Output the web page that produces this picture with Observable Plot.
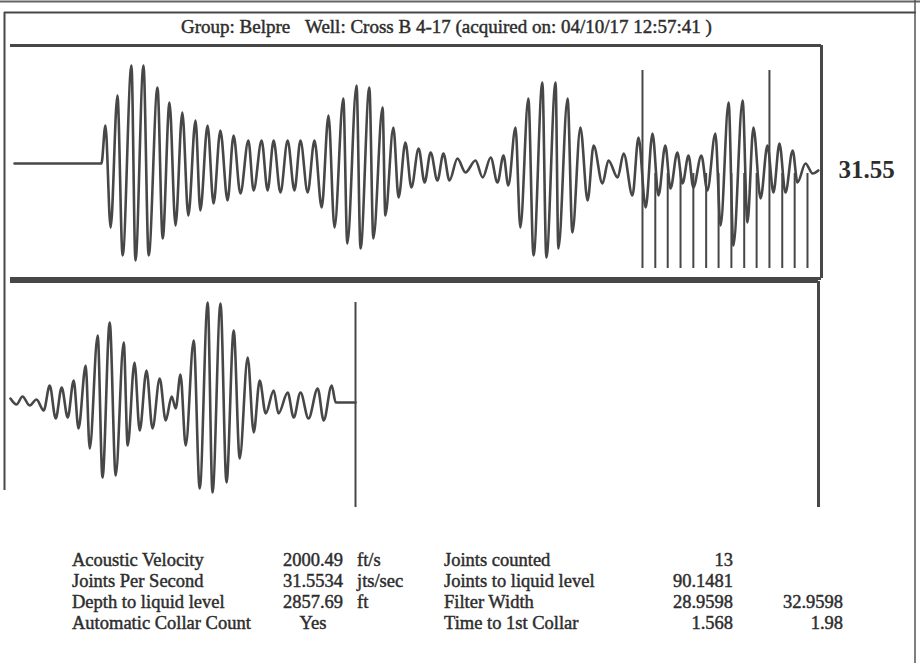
<!DOCTYPE html>
<html>
<head>
<meta charset="utf-8">
<script src="https://cdn.jsdelivr.net/npm/d3@7"></script>
<script src="https://cdn.jsdelivr.net/npm/@observablehq/plot@0.6"></script>
<style>
  body { margin: 0; background: #fff; }
  #wrap { position: relative; width: 920px; height: 663px; overflow: hidden; background: #fff; }
  .layer { position: absolute; left: 0; top: 0; }
  .layer svg { display: block; }
</style>
</head>
<body>
<div id="wrap"></div>
<script>
// ---------------- DATA ----------------
const titleParts = ["Group: Belpre", "Well: Cross B 4-17 (acquired on: 04/10/17 12:57:41 )"];

// Upper trace: time (s) and amplitude at each turning point
const upperTime = [0, 0.217,
  0.227, 0.240, 0.257, 0.270, 0.292, 0.302, 0.322, 0.335, 0.357, 0.370,
  0.387, 0.402, 0.419, 0.434, 0.452, 0.464, 0.482, 0.497, 0.514, 0.532,
  0.547, 0.564, 0.584, 0.597, 0.617, 0.632, 0.647, 0.664, 0.682, 0.699,
  0.714, 0.732, 0.749, 0.767, 0.784, 0.799, 0.821, 0.831, 0.854, 0.864,
  0.886, 0.896, 0.919, 0.926, 0.946, 0.959, 0.976, 0.991, 1.009, 1.024,
  1.039, 1.056, 1.071, 1.086, 1.106, 1.126, 1.151, 1.169, 1.189, 1.206,
  1.221, 1.233, 1.251, 1.263, 1.283, 1.296, 1.318, 1.328, 1.351, 1.358,
  1.381, 1.393, 1.413, 1.431, 1.446, 1.468, 1.483, 1.506, 1.521, 1.543,
  1.558, 1.576, 1.593, 1.608, 1.625, 1.638, 1.655, 1.668, 1.683, 1.695,
  1.715, 1.730, 1.750, 1.763, 1.783, 1.795, 1.818, 1.830, 1.845, 1.863,
  1.880, 1.895, 1.910, 1.925, 1.943, 1.955, 1.975, 1.993, 2.007];
const upperAmp = [0, 0,
  0.38, -0.64, 0.68, -0.92, 0.98, -0.97, 0.98, -0.92, 0.76, -0.75,
  0.61, -0.62, 0.51, -0.52, 0.43, -0.47, 0.38, -0.40, 0.33, -0.37,
  0.28, -0.30, 0.23, -0.27, 0.23, -0.27, 0.23, -0.29, 0.23, -0.27,
  0.23, -0.29, 0.23, -0.44, 0.48, -0.64, 0.65, -0.80, 0.78, -0.85,
  0.76, -0.75, 0.56, -0.52, 0.36, -0.34, 0.21, -0.24, 0.15, -0.19,
  0.11, -0.17, 0.10, -0.17, 0.05, -0.09, 0.03, -0.14, 0.06, -0.19,
  0.08, -0.22, 0.36, -0.64, 0.65, -0.92, 0.81, -0.94, 0.81, -0.85,
  0.65, -0.69, 0.36, -0.37, 0.18, -0.20, 0.03, -0.14, 0.10, -0.32,
  0.26, -0.44, 0.30, -0.32, 0.18, -0.25, 0.11, -0.20, 0.08, -0.24,
  0.08, -0.27, 0.30, -0.62, 0.61, -0.82, 0.63, -0.59, 0.36, -0.35,
  0.18, -0.29, 0.20, -0.29, 0.13, -0.19, 0.00, -0.10, -0.07];

// Collar (joint) markers, seconds
const collarTimes = [1.568, 1.600, 1.631, 1.663, 1.695, 1.727, 1.758,
  1.790, 1.822, 1.853, 1.885, 1.917, 1.948, 1.980];
const tallCollars = [0, 10];
const jointsPerSecondLabel = "31.55";

// Lower trace
const lowerTime = [0.000, 0.015, 0.030, 0.048, 0.065, 0.083, 0.098, 0.113, 0.128, 0.143,
  0.158, 0.170, 0.188, 0.198, 0.218, 0.230, 0.248, 0.263, 0.283, 0.293,
  0.310, 0.323, 0.340, 0.355, 0.373, 0.388, 0.403, 0.413, 0.425, 0.438,
  0.458, 0.473, 0.493, 0.505, 0.525, 0.540, 0.558, 0.573, 0.593, 0.608,
  0.623, 0.638, 0.658, 0.670, 0.693, 0.708, 0.725, 0.745, 0.768, 0.783,
  0.803, 0.813, 0.8625];
const lowerAmp = [0.04, -0.02, 0.06, -0.03, 0.03, -0.08, 0.17, -0.16, 0.15, -0.15,
  0.22, -0.26, 0.37, -0.46, 0.67, -0.75, 0.80, -0.73, 0.60, -0.43,
  0.40, -0.28, 0.32, -0.26, 0.24, -0.18, 0.06, -0.06, 0.28, -0.43,
  0.62, -0.86, 1.00, -0.90, 0.99, -0.80, 0.72, -0.56, 0.45, -0.30,
  0.22, -0.11, 0.12, -0.11, 0.10, -0.15, 0.10, -0.16, 0.14, -0.18,
  0.17, 0.00, 0.00];
const lowerMarkerTime = [0.8625];

// Results table
const leftLabels = ["Acoustic Velocity", "Joints Per Second", "Depth to liquid level", "Automatic Collar Count"];
const leftValues = ["2000.49", "31.5534", "2857.69", "Yes"];
const leftUnits = ["ft/s", "jts/sec", "ft", ""];
const rightLabels = ["Joints counted", "Joints to liquid level", "Filter Width", "Time to 1st Collar"];
const rightValues = ["13", "90.1481", "28.9598", "1.568"];
const rightValues2 = ["", "", "32.9598", "1.98"];

// ---------------- DRAWING ----------------
const ink = "#474747";
const textInk = "#2d2d2d";
const serif = "'Liberation Serif', 'Times New Roman', serif";
const wrap = document.getElementById("wrap");

function place(node, left, top) {
  const d = document.createElement("div");
  d.className = "layer";
  d.style.left = left + "px";
  d.style.top = top + "px";
  d.appendChild(node);
  wrap.appendChild(d);
}

// Upper panel
const upperXDomain = [-0.01, 2.015];
const upperYDomain = [-1.15, 1.18];
const upperWave = upperTime.map((t, i) => ({t, a: upperAmp[i]}));
const collars = collarTimes.map((t, i) => ({t, tall: tallCollars.includes(i)}));

const upper = Plot.plot({
  width: 910, height: 240,
  marginLeft: 10, marginRight: 89, marginTop: 3, marginBottom: 4,
  style: {background: "transparent", overflow: "visible"},
  x: {domain: upperXDomain, axis: null},
  y: {domain: upperYDomain, axis: null},
  marks: [
    Plot.ruleY([upperYDomain[1]], {x1: upperXDomain[0], x2: upperXDomain[1], stroke: ink, strokeWidth: 3}),
    Plot.ruleY([upperYDomain[0]], {x1: upperXDomain[0], x2: upperXDomain[1], stroke: ink, strokeWidth: 3}),
    Plot.ruleX([upperXDomain[1]], {y1: upperYDomain[0], y2: upperYDomain[1], stroke: ink, strokeWidth: 3}),
    Plot.ruleX(collars, {x: "t", y1: -1.05, y2: d => d.tall ? 0.93 : -0.1, stroke: ink, strokeWidth: 2}),
    Plot.line(upperWave, {x: "t", y: "a", curve: "monotone-x", stroke: ink, strokeWidth: 2.6}),
    Plot.text([jointsPerSecondLabel], {x: upperXDomain[1], y: -0.06, dx: 17, text: d => d, textAnchor: "start",
      lineAnchor: "middle", fontFamily: serif, fontWeight: "bold", fontSize: 25, fill: textInk})
  ]
});
place(upper, 0, 42);

// Lower panel
const lowerXDomain = [0, 2.02];
const lowerYDomain = [-1.05, 1.21];
const lowerWave = lowerTime.map((t, i) => ({t, a: lowerAmp[i]}));
const lower = Plot.plot({
  width: 910, height: 233,
  marginLeft: 10, marginRight: 92, marginTop: 3, marginBottom: 4,
  style: {background: "transparent", overflow: "visible"},
  x: {domain: lowerXDomain, axis: null},
  y: {domain: lowerYDomain, axis: null},
  marks: [
    Plot.ruleY([lowerYDomain[1]], {x1: lowerXDomain[0], x2: lowerXDomain[1], stroke: ink, strokeWidth: 3}),
    Plot.ruleX([lowerXDomain[1]], {y1: lowerYDomain[0], y2: lowerYDomain[1], stroke: ink, strokeWidth: 3}),
    Plot.ruleX(lowerMarkerTime, {y1: lowerYDomain[0], y2: 1.0, stroke: ink, strokeWidth: 2}),
    Plot.line(lowerWave, {x: "t", y: "a", curve: "monotone-x", stroke: ink, strokeWidth: 2.6})
  ]
});
place(lower, 0, 278);

// Overlay: outer frame and text
const svg = d3.create("svg").attr("width", 920).attr("height", 663)
  .style("font-family", serif);
const frame = svg.append("g").attr("stroke", ink).attr("fill", "none");
frame.append("line").attr("x1", 0).attr("x2", 920).attr("y1", 1.5).attr("y2", 1.5).attr("stroke-width", 2).attr("stroke", "#666");
frame.append("line").attr("x1", 4).attr("x2", 916).attr("y1", 12.5).attr("y2", 12.5).attr("stroke-width", 2);
frame.append("line").attr("x1", 4.5).attr("x2", 4.5).attr("y1", 12).attr("y2", 490).attr("stroke-width", 2);
frame.append("line").attr("x1", 915).attr("x2", 915).attr("y1", 0).attr("y2", 663).attr("stroke-width", 1.5).attr("stroke", "#555");

const txt = svg.append("g").attr("fill", textInk).attr("stroke", textInk).attr("stroke-width", 0.45);
txt.append("text").attr("x", 181).attr("y", 33).attr("font-size", 19).text(titleParts[0]);
txt.append("text").attr("x", 305).attr("y", 33).attr("font-size", 19).text(titleParts[1]);

const rowY = [566, 587, 608, 629];
rowY.forEach((y, i) => {
  const row = txt.append("g").attr("font-size", 18.5);
  row.append("text").attr("x", 72).attr("y", y).text(leftLabels[i]);
  row.append("text").attr("x", 313).attr("y", y).attr("text-anchor", "middle").text(leftValues[i]);
  row.append("text").attr("x", 357).attr("y", y).text(leftUnits[i]);
  row.append("text").attr("x", 444).attr("y", y).text(rightLabels[i]);
  row.append("text").attr("x", 733).attr("y", y).attr("text-anchor", "end").text(rightValues[i]);
  row.append("text").attr("x", 843).attr("y", y).attr("text-anchor", "end").text(rightValues2[i]);
});
place(svg.node(), 0, 0);
</script>
</body>
</html>
